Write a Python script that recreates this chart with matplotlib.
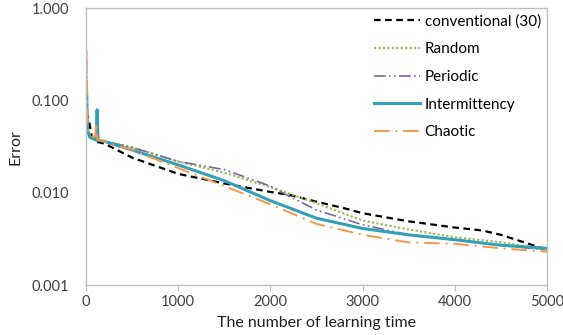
import numpy as np
import matplotlib.pyplot as plt

plt.rcParams['font.family'] = ['Lato', 'DejaVu Sans']

# learning time vs error
x_conv = [0, 30, 60, 100, 200, 500, 1000, 1500, 2000, 2200, 2500, 2800, 3000, 3500, 4000, 4300, 4500, 4800, 5000]
y_conv = [0.075, 0.062, 0.042, 0.036, 0.034, 0.0240, 0.0160, 0.0126, 0.0102, 0.0095, 0.0080, 0.0068,
          0.0060, 0.0049, 0.0042, 0.0039, 0.0035, 0.0028, 0.0024]

x_rand = [5, 15, 40, 150, 500, 1000, 1500, 2000, 2500, 3000, 3500, 4000, 4500, 5000]
y_rand = [0.20, 0.050, 0.040, 0.037, 0.031, 0.0218, 0.0165, 0.0115, 0.0077, 0.0050, 0.0040, 0.0033, 0.0029, 0.0024]

x_per = [5, 15, 40, 150, 500, 1000, 1500, 2000, 2200, 2500, 3000, 3500, 4000, 4500, 5000]
y_per = [0.27, 0.050, 0.040, 0.037, 0.031, 0.0218, 0.0178, 0.0118, 0.0092, 0.0065, 0.0045, 0.0035, 0.0031,
         0.0027, 0.0024]

x_int = [5, 15, 40, 110, 120, 130, 200, 500, 1000, 1500, 2000, 2500, 3000, 3500, 4000, 4500, 5000]
y_int = [0.15, 0.048, 0.040, 0.037, 0.079, 0.037, 0.036, 0.029, 0.020, 0.0135, 0.0082, 0.0053, 0.0041,
         0.0035, 0.0031, 0.0027, 0.0025]

x_cha = [5, 15, 40, 100, 110, 120, 200, 500, 1000, 1500, 2000, 2500, 3000, 3500, 4000, 4500, 5000]
y_cha = [0.35, 0.050, 0.042, 0.040, 0.057, 0.038, 0.036, 0.029, 0.0185, 0.0118, 0.0075, 0.0046, 0.0035,
         0.0029, 0.0028, 0.0025, 0.0023]

fig = plt.figure(figsize=(5.63, 3.35), dpi=100)
ax = fig.add_axes([0.1528, 0.149, 0.8188, 0.827])

ax.plot(x_conv, y_conv, color='black', lw=1.6, ls=(0, (3, 2)), label='conventional (30)')
ax.plot(x_rand, y_rand, color='#9BBB59', lw=1.6, ls=(0, (1, 1)), label='Random')
ax.plot(x_per, y_per, color='#8064A2', lw=1.2, ls=(0, (7, 2, 1, 2, 1, 2)), label='Periodic')
ax.plot(x_int, y_int, color='#34A0B8', lw=2.2, ls='-', label='Intermittency')
ax.plot(x_cha, y_cha, color='#F79646', lw=1.4, ls=(0, (8, 3, 1, 3)), label='Chaotic')

ax.set_yscale('log')
ax.set_ylim(0.001, 1.0)
ax.set_xlim(0, 5000)
ax.set_yticks([0.001, 0.01, 0.1, 1.0])
ax.set_yticklabels(['0.001', '0.010', '0.100', '1.000'])
ax.minorticks_off()
ax.set_xticks([0, 1000, 2000, 3000, 4000, 5000])
ax.tick_params(axis='y', length=0, pad=12, labelsize=10.5, colors='#404040')
ax.tick_params(axis='x', length=4, width=0.8, color='#BFBFBF', pad=3, labelsize=10.5, colors='#404040')
for s in ax.spines.values():
    s.set_color('#BFBFBF')
    s.set_linewidth(1.0)

ax.set_xlabel('The number of learning time', fontsize=11.5, labelpad=5, color='#202020')
ax.set_ylabel('Error', fontsize=11.5, labelpad=7, color='#202020')

ax.legend(loc='upper right', bbox_to_anchor=(1.0, 1.0), frameon=False, fontsize=11,
          handlelength=3.0, handletextpad=0.3, labelspacing=0.9, borderaxespad=0.0)

fig.savefig('out.png', dpi=100)
